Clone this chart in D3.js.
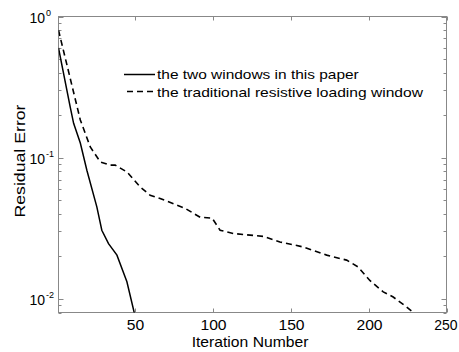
<!DOCTYPE html>
<html><head><meta charset="utf-8">
<script src="https://cdn.jsdelivr.net/npm/d3@7"></script>
<style>body{margin:0;background:#fff}svg{display:block}text{font-family:Arial,"Liberation Sans",sans-serif}</style>
</head><body><svg id="c" width="459" height="352"></svg>
<script>
const solidIter = [1, 8.5, 10.7, 15, 19.2, 25.6, 28.8, 33.1, 38.5, 44.9, 49.7, 52];
const solidVal  = [0.60, 0.229, 0.175, 0.127, 0.0815, 0.0448, 0.0306, 0.0246, 0.0204, 0.0132, 0.0079, 0.0065];
const dashIter = [1, 15, 21.4, 27.8, 34.2, 37.4, 44.9, 53.4, 59.8, 66.2, 82.2, 91.9, 99.6, 104.7, 113.2, 132.4, 143.1, 158.1, 173.1, 185.9, 193.3, 200.8, 209.4, 215.8, 224.4, 229.2, 232];
const dashVal  = [0.80, 0.185, 0.119, 0.0933, 0.0885, 0.0885, 0.0793, 0.062, 0.0542, 0.0514, 0.0438, 0.0378, 0.0373, 0.0306, 0.029, 0.0277, 0.0253, 0.0233, 0.0204, 0.0188, 0.0168, 0.0135, 0.0112, 0.0103, 0.00875, 0.0079, 0.0073];
const xTicks = [50, 100, 150, 200, 250];
const yMajor = [1, 0.1, 0.01];
const yMajorExp = ["0", "-1", "-2"];
const legendLabels = ["the two windows in this paper", "the traditional resistive loading window"];
const xLabel = "Iteration Number", yLabel = "Residual Error";

const L = 58.5, R = 446.5, T = 16.5, B = 312.5;
const svg = d3.select("#c");
const x = d3.scaleLinear().domain([1, 250]).range([L, R]);
const y = d3.scaleLog().domain([0.008, 1]).range([B, T]);

function addText(parent, tx, ty, str, size, sx, anchor, rot) {
  return parent.append("text")
    .attr("transform", `translate(${tx},${ty})` + (rot ? ` rotate(${rot})` : "") + ` scale(${sx},1)`)
    .attr("text-anchor", anchor || "start").attr("font-size", size).attr("fill", "#000").text(str);
}

svg.append("defs").append("clipPath").attr("id","clip").append("rect")
  .attr("x", L).attr("y", T).attr("width", R-L).attr("height", B-T);

const axisCol = "#888";
const minor = [];
for (let e = -3; e <= 0; e++) for (let m = 2; m <= 9; m++) { const v = m*Math.pow(10,e); if (v >= 0.008 && v <= 1) minor.push(v); }
const g = svg.append("g");
minor.forEach(v => {
  const yy = Math.round(y(v)) + 0.5;
  g.append("line").attr("x1", L).attr("x2", L+3).attr("y1", yy).attr("y2", yy).attr("stroke", axisCol);
  g.append("line").attr("x1", R).attr("x2", R-3).attr("y1", yy).attr("y2", yy).attr("stroke", axisCol);
});
yMajor.forEach((v,i) => {
  const yy = Math.round(y(v)) + 0.5;
  g.append("line").attr("x1", L).attr("x2", L+5).attr("y1", yy).attr("y2", yy).attr("stroke", axisCol);
  g.append("line").attr("x1", R).attr("x2", R-5).attr("y1", yy).attr("y2", yy).attr("stroke", axisCol);
  addText(g, 45, yy + 5, "10", 14, 1, "end");
  addText(g, 46, yy - 1.5, yMajorExp[i], 9, 1, "start");
});
xTicks.forEach(v => {
  const xx = Math.round(x(v)) + 0.5;
  g.append("line").attr("x1", xx).attr("x2", xx).attr("y1", B).attr("y2", B-4).attr("stroke", axisCol);
  g.append("line").attr("x1", xx).attr("x2", xx).attr("y1", T).attr("y2", T+4).attr("stroke", axisCol);
  const last = v === xTicks[xTicks.length - 1];
  addText(g, last ? 457.5 : xx, 329.5, String(v), 14, last ? 1.0 : 1.12, last ? "end" : "middle");
});
g.append("rect").attr("x", L).attr("y", T).attr("width", R-L).attr("height", B-T)
  .attr("fill", "none").attr("stroke", axisCol).attr("stroke-width", 1);

const line = d3.line().x(d => x(d[0])).y(d => y(d[1]));
const plot = svg.append("g").attr("clip-path", "url(#clip)");
plot.append("path").datum(solidIter.map((v,i)=>[v, solidVal[i]])).attr("d", line)
  .attr("fill","none").attr("stroke","#000").attr("stroke-width",1.5);
plot.append("path").datum(dashIter.map((v,i)=>[v, dashVal[i]])).attr("d", line)
  .attr("fill","none").attr("stroke","#000").attr("stroke-width",1.6).attr("stroke-dasharray","6,4");

const lg = svg.append("g");
lg.append("line").attr("x1",124).attr("x2",155).attr("y1",74.5).attr("y2",74.5).attr("stroke","#000").attr("stroke-width",1.5);
lg.append("line").attr("x1",127).attr("x2",155).attr("y1",91.5).attr("y2",91.5).attr("stroke","#000").attr("stroke-width",1.5).attr("stroke-dasharray","6,4");
addText(lg, 157, 79.3, legendLabels[0], 13, 1.19, "start");
addText(lg, 157, 96.5, legendLabels[1], 13, 1.2, "start");

addText(svg, 250, 347, xLabel, 14, 1.12, "middle");
addText(svg, 25, 161, yLabel, 15, 1.18, "middle", -90);
</script></body></html>
